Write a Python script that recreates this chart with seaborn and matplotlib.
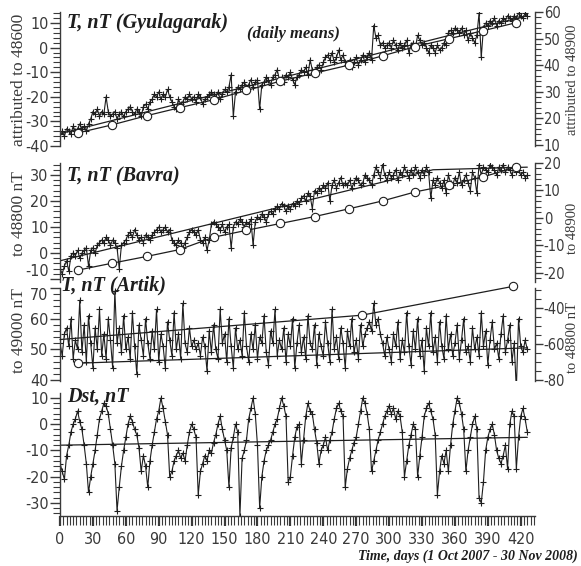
import numpy as np
import pandas as pd
import matplotlib
matplotlib.use("Agg")
import matplotlib.pyplot as plt
import seaborn as sns
from matplotlib.ticker import MultipleLocator

# ---------------- data (every 2nd day) ----------------
day_step = 2
gyul = [
    -35, -34, -36, -33, -34, -35, -32, -34, -33, -31,
    -33, -32, -34, -31, -29, -26, -27, -25, -28, -26,
    -27, -20, -26, -28, -27, -26, -29, -27, -26, -28,
    -26, -25, -24, -26, -27, -25, -26, -28, -24, -23,
    -25, -22, -21, -19, -20, -18, -21, -19, -20, -17,
    -20, -22, -24, -25, -21, -23, -22, -20, -21, -19,
    -21, -20, -22, -19, -20, -23, -21, -20, -19, -18,
    -19, -20, -18, -21, -19, -17, -18, -16, -11, -28,
    -18, -16, -17, -15, -14, -16, -15, -13, -16, -14,
    -13, -25, -15, -14, -12, -13, -15, -12, -11, -9,
    -13, -12, -14, -11, -12, -10, -13, -15, -12, -11,
    -9, -10, -8, -11, -5, -9, -10, -8, -7, -9,
    -6, -4, -3, -5, -2, -6, -4, -1, -5, -3,
    -6, -7, -5, -8, -6, -4, -7, -5, -3, -6,
    -4, -2, -5, 9, 4, 5, 1, 2, 0, 1,
    2, 0, 3, 1, -1, 2, 0, 1, 3, -2,
    1, 2, 0, 5, 3, 1, 2, 0, -2, 1,
    0, -2, 1, -1, 0, 2, 1, 6, 7, 6,
    8, 7, 6, 8, 5, 7, 3, 6, 4, 2,
    5, 14, -4, 8, 10, 9, 11, 10, 12, 9,
    11, 10, 12, 11, 13, 12, 11, 13, 12, 14,
    13, 12, 14, 13,
]
bavra = [
    -6, -8, -5, -3, -7, -1, 0, -1, 1, -2,
    0, 1, 2, -5, 1, 2, 0, 3, 4, 5,
    4, 6, 5, 3, 5, 4, 2, -6, 3, 4,
    5, 7, 8, 6, 9, 7, 5, 6, 4, 7,
    6, 5, 7, 8, 9, 10, 8, 9, 10, 8,
    9, 5, 4, 3, 5, 4, 2, 4, 6, 8,
    9, 8, 7, 9, 5, 4, 6, 1, 5, 11,
    12, 11, 10, 9, 11, 8, 10, 11, 2, 10,
    12, 11, 13, 12, 10, 12, 11, 13, 3, 12,
    14, 13, 15, 14, 12, 15, 16, 15, 17, 18,
    17, 19, 18, 16, 18, 17, 19, 18, 20, 19,
    21, 22, 20, 23, 22, 17, 24, 23, 25, 24,
    26, 25, 27, 20, 26, 28, 25, 27, 29, 26,
    27, 26, 28, 25, 27, 29, 28, 26, 27, 30,
    29, 28, 26, 30, 33, 31, 29, 34, 30, 28,
    31, 29, 30, 32, 28, 31, 30, 33, 31, 29,
    32, 30, 33, 31, 29, 32, 30, 33, 31, 21,
    28, 26, 29, 27, 25, 28, 23, 30, 27, 26,
    29, 27, 31, 26, 28, 30, 27, 24, 31, 29,
    23, 34, 30, 33, 32, 31, 34, 33, 32, 30,
    33, 32, 34, 31, 33, 32, 30, 33, 31, 32,
    30, 31, 29, 30,
]
artik = [
    52, 48, 55, 57, 51, 60, 47, 53, 50, 66,
    49, 58, 46, 61, 52, 44, 57, 50, 63, 48,
    55, 47, 60, 53, 44, 69, 52, 57, 49, 61,
    50, 54, 47, 62, 51, 42, 58, 53, 48, 60,
    52, 47, 56, 50, 63, 46, 55, 51, 44, 59,
    53, 48, 62, 50, 55, 47, 65, 52, 49, 57,
    51, 53, 50, 52, 48, 54, 51, 43, 56, 49,
    58, 50, 47, 63, 52, 55, 46, 60, 51, 44,
    57, 50, 53, 48, 62, 51, 46, 55, 50, 58,
    47, 54, 52, 61, 49, 45, 56, 52, 63, 48,
    53, 50, 57, 46, 55, 51, 60, 44, 52, 58,
    49, 54, 47, 61, 52, 50, 58, 45, 55, 51,
    48, 59, 52, 46, 63, 50, 54, 47, 57, 52,
    44, 56, 51, 60, 49, 53, 47, 58, 51, 55,
    57, 59, 56, 65, 58, 60, 55, 52, 48, 54,
    50, 46, 55, 51, 59, 47, 53, 49, 62, 51,
    45, 56, 50, 60, 48, 53, 43, 57, 51, 62,
    49, 54, 46, 59, 51, 47, 61, 50, 55, 48,
    52, 58, 47, 53, 60, 49, 51, 46, 57, 50,
    54, 48, 62, 51, 56, 45, 53, 59, 50, 52,
    47, 55, 61, 49, 53, 58, 46, 52, 37, 60,
    51, 49, 53, 50,
]
dst = [
    -15, -18, -21, -12, -8, -3, 0, 2, 5, 1,
    -2, -8, -15, -26, -20, -15, -10, -4, 2, 5,
    8, 7, 4, -2, -8, -15, -33, -24, -16, -10,
    -5, 0, 3, 1, -2, -4, -9, -18, -12, -16,
    -24, -14, -8, -3, 2, 5, 10, 6, 1, -4,
    -20, -18, -14, -12, -10, -13, -11, -14, -8, -3,
    0, -2, -5, -27, -18, -15, -12, -14, -10, -11,
    -7, -4, 0, 3, -2, -6, -10, -24, -9, -5,
    0, -3, -35, -13, -10, -6, 2, 6, 10, 4,
    -8, -32, -20, -14, -10, -8, -6, -3, 0, 2,
    6, 10, 7, 3, -22, -20, -12, -5, -1, 0,
    -15, -6, 3, 8, 5, 4, -2, -7, -15, -10,
    -8, -5, -10, -6, -3, 2, 6, 8, 5, 3,
    -24, -17, -13, -10, -7, -5, 0, 5, 10, 8,
    4, -2, -18, -14, -10, -6, -3, 0, 3, 5,
    7, 4, 6, 2, 5, 3, -3, -20, -14, -8,
    -4, 0, -2, -20, -12, -5, 3, 6, 8, 5,
    2, -4, -27, -18, -12, -15, -10, -18, -8, 0,
    5, 10, 8, 4, -2, -18, -10, -5, 0, 3,
    -2, -28, -30, -22, -10, -5, -2, 0, -4, -10,
    -13, -15, -12, -8, -17, 0, 5, 3, -17, -5,
    3, 6, 2, -3,
]

# trend lines (left axes)
trend_days = [0, 426]
gyul_trend = [-35, 13]
bavra_trend_days = [0, 340, 426]
bavra_trend = [-3, 32, 33]
artik_trend = [45.5, 50.5]
artik_trend_days = [16, 426]
dst_trend = [-8, -5]

# monthly means (right axes, circles)
month_days = [16, 47, 79, 109, 140, 170, 201, 232, 263, 294, 324, 355, 386, 416]
gyul_month = [14.5, 17.5, 21, 24, 27, 30.5, 34, 37, 40, 43.5, 47, 50, 53, 56]
bavra_month = [-19, -16.5, -14, -11.5, -7, -4.5, -2, 0.5, 3.3, 6.2, 9.5, 12, 15, 18.5]
artik_month_days = [0, 275, 413]
artik_month = [-57.5, -44, -28]

# ---------------- style ----------------
sns.set_theme(style="white")
plt.rcParams["font.family"] = ["DejaVu Sans"]
plt.rcParams["font.stretch"] = "condensed"
plt.rcParams["axes.unicode_minus"] = False
plt.rcParams["axes.linewidth"] = 1.0

INK = "#1e1e1e"
TXT = "#3a3a3a"
SERIF = ["Liberation Serif", "DejaVu Serif"]
TICK_FONT = dict(family="DejaVu Sans", stretch="condensed", size=11.5)
TICK_FONT_R = dict(family="DejaVu Sans", stretch="condensed", size=10.5)

W_PX, H_PX = 581, 566
fig = plt.figure(figsize=(W_PX / 100, H_PX / 100), dpi=100)
L, R = 60, 535


def rect(top, bottom):
    return [L / W_PX, 1 - bottom / H_PX, (R - L) / W_PX, (bottom - top) / H_PX]


ax1 = fig.add_axes(rect(12, 146))
ax2 = fig.add_axes(rect(163, 282))
ax3 = fig.add_axes(rect(288, 381))
ax4 = fig.add_axes(rect(393, 516))

line_kw = dict(color=INK, linewidth=0.8, marker="+", markersize=4,
               markeredgewidth=0.8, markeredgecolor=INK, errorbar=None)
trend_kw = dict(color=INK, linewidth=0.9, errorbar=None)
circ_kw = dict(color=INK, linewidth=0.9, marker="o", markersize=6,
               markerfacecolor="white", markeredgecolor=INK,
               markeredgewidth=0.8, errorbar=None, clip_on=False)


def days_for(vals):
    return np.arange(len(vals)) * day_step


def fix_labels(ax, spec):
    for lab in ax.get_yticklabels() + ax.get_xticklabels():
        lab.set_fontproperties(matplotlib.font_manager.FontProperties(**spec))
        lab.set_color(TXT)


def style_left(ax, ylim, major, minor):
    ax.set_xlim(0, 433)
    ax.set_ylim(*ylim)
    for s in ["top", "right", "bottom"]:
        ax.spines[s].set_visible(False)
    ax.spines["left"].set_color(TXT)
    ax.yaxis.set_major_locator(MultipleLocator(major))
    ax.yaxis.set_minor_locator(MultipleLocator(minor))
    ax.tick_params(axis="y", which="major", direction="out", length=7.2, width=1.0,
                   pad=1, colors=TXT, left=True)
    ax.tick_params(axis="y", which="minor", direction="out", length=5, width=0.8,
                   colors=TXT, left=True)
    ax.tick_params(axis="x", which="both", bottom=False, labelbottom=False)
    ax.set_xlabel("")
    ax.set_ylabel("")


def style_right(ax, ylim, major, minor):
    ax.set_xlim(0, 433)
    ax.set_ylim(*ylim)
    for s in ["top", "left", "bottom"]:
        ax.spines[s].set_visible(False)
    ax.spines["right"].set_color(TXT)
    ax.yaxis.set_major_locator(MultipleLocator(major))
    ax.yaxis.set_minor_locator(MultipleLocator(minor))
    ax.tick_params(axis="y", which="major", direction="out", length=6, width=1.0,
                   pad=0.3, colors=TXT, right=True, left=False,
                   labelright=True, labelleft=False)
    ax.tick_params(axis="y", which="minor", direction="out", length=4, width=0.8,
                   colors=TXT, right=True, left=False)
    ax.tick_params(axis="x", which="both", bottom=False, labelbottom=False)
    ax.set_xlabel("")
    ax.set_ylabel("")


# Panel 1 - Gyulagarak
sns.lineplot(x=days_for(gyul), y=gyul, ax=ax1, **line_kw)
sns.lineplot(x=trend_days, y=gyul_trend, ax=ax1, **trend_kw)
style_left(ax1, (-40, 14.5), 10, 2)
ax1r = ax1.twinx()
sns.lineplot(x=month_days, y=gyul_month, ax=ax1r, **circ_kw)
style_right(ax1r, (9.6, 60), 10, 2)

# Panel 2 - Bavra
sns.lineplot(x=days_for(bavra), y=bavra, ax=ax2, **line_kw)
sns.lineplot(x=bavra_trend_days, y=bavra_trend, ax=ax2, **trend_kw)
style_left(ax2, (-11.15, 34.6), 10, 2)
ax2r = ax2.twinx()
sns.lineplot(x=month_days, y=bavra_month, ax=ax2r, **circ_kw)
style_right(ax2r, (-23.3, 20), 10, 2)

# Panel 3 - Artik
sns.lineplot(x=days_for(artik), y=artik, ax=ax3, **line_kw)
sns.lineplot(x=artik_trend_days, y=artik_trend, ax=ax3, markevery=[0], **circ_kw)
style_left(ax3, (39.7, 70), 10, 2)
ax3r = ax3.twinx()
sns.lineplot(x=artik_month_days, y=artik_month, ax=ax3r, markevery=[1, 2], **circ_kw)
style_right(ax3r, (-80.5, -28.9), 20, 5)

# Panel 4 - Dst
sns.lineplot(x=days_for(dst), y=dst, ax=ax4, **line_kw)
sns.lineplot(x=trend_days, y=dst_trend, ax=ax4, **trend_kw)
style_left(ax4, (-35, 11.9), 10, 2)
ax4.spines["bottom"].set_visible(True)
ax4.spines["bottom"].set_color(TXT)
ax4.xaxis.set_major_locator(MultipleLocator(30))
ax4.xaxis.set_minor_locator(MultipleLocator(3))
ax4.tick_params(axis="x", which="major", direction="out", length=7.5, width=1.6,
                pad=4, colors=TXT, bottom=True, labelbottom=True)
ax4.tick_params(axis="x", which="minor", direction="out", length=6.5, width=0.8,
                colors=TXT, bottom=True)

for a in (ax1, ax2, ax3, ax4):
    fix_labels(a, TICK_FONT)
for a in (ax1r, ax2r, ax3r):
    fix_labels(a, TICK_FONT_R)


# ---------------- texts ----------------
def fx(px):
    return px / W_PX


def fy(py):
    return 1 - py / H_PX


title_kw = dict(family=SERIF, weight="bold", style="italic", color=INK,
                fontsize=14.5, ha="left", va="center")
fig.text(fx(67), fy(23), "T, nT (Gyulagarak)", **title_kw)
fig.text(fx(67), fy(176), "T, nT (Bavra)", **title_kw)
fig.text(fx(61), fy(285), "T, nT (Artik)", **title_kw)
fig.text(fx(67), fy(397), "Dst, nT", **title_kw)
fig.text(fx(247), fy(34), "(daily means)", family=SERIF, weight="bold",
         style="italic", color=INK, fontsize=12, ha="left", va="center")
fig.text(fx(578), fy(556), "Time, days (1 Oct 2007 - 30 Nov 2008)", family=SERIF,
         weight="bold", style="italic", color=INK, fontsize=10, ha="right",
         va="center")

ylab_kw = dict(family=SERIF, color=TXT, fontsize=12.5, rotation=90,
               ha="center", va="center")
ylab_r_kw = dict(ylab_kw, fontsize=10.5)
fig.text(fx(19), fy(80), "attributed to 48600", **ylab_kw)
fig.text(fx(19), fy(214), "to 48800 nT", **ylab_kw)
fig.text(fx(19), fy(331), "to 49000 nT", **ylab_kw)
fig.text(fx(572), fy(80), "attributed to 48900", **ylab_r_kw)
fig.text(fx(572), fy(228), "to 48900", **ylab_r_kw)
fig.text(fx(572), fy(338), "to 48800 nT", **ylab_r_kw)

# keep the two crowded labels at the Bavra/Artik junction apart
fig.canvas.draw()
for lab in ax2.get_yticklabels():
    if lab.get_text() == "-10":
        lab.set_va("bottom")
for lab in ax3.get_yticklabels():
    if lab.get_text() == "70":
        lab.set_va("top")

fig.savefig("out.png", dpi=100, facecolor="white")
